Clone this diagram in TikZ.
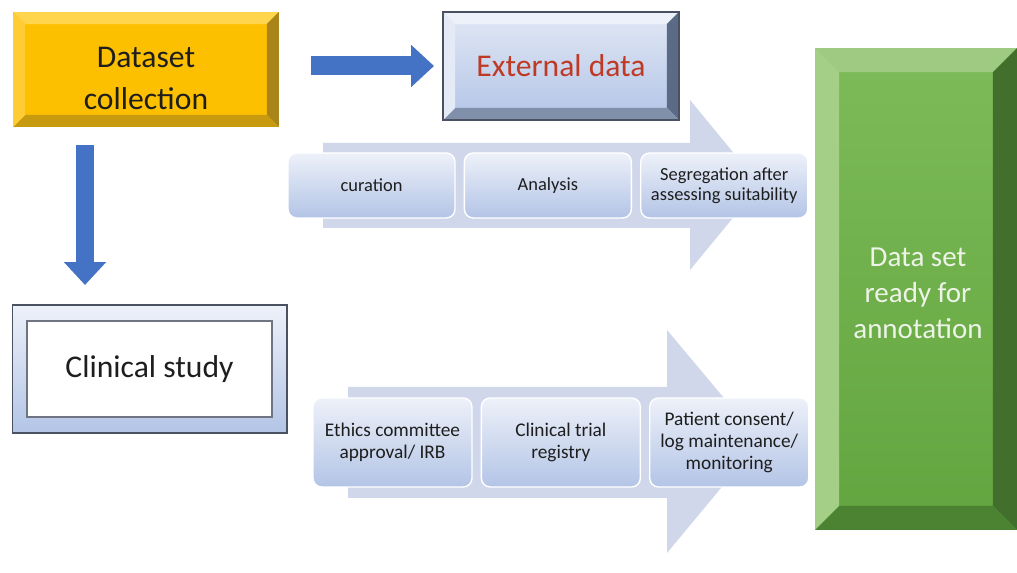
\documentclass[tikz,border=0pt]{standalone}
\usepackage{fontspec}
\setmainfont{Carlito}
\usetikzlibrary{arrows.meta, positioning, calc}

\definecolor{ink}{HTML}{1E1E1E}
\definecolor{gold}{HTML}{FDC000}
\definecolor{goldtop}{HTML}{FFD54D}
\definecolor{goldleft}{HTML}{FFCC33}
\definecolor{goldright}{HTML}{A8841A}
\definecolor{goldbot}{HTML}{C89A10}
\definecolor{flowblue}{HTML}{4472C4}
\definecolor{paletop}{HTML}{EDF1F9}
\definecolor{palebot}{HTML}{B3C4E6}
\definecolor{steel}{HTML}{5B6B85}
\definecolor{steelbot}{HTML}{8190AA}
\definecolor{frameline}{HTML}{4A5262}
\definecolor{extred}{HTML}{BE3A24}
\definecolor{chevron}{HTML}{D1D7EB}
\definecolor{leaf}{HTML}{70AD47}
\definecolor{leaftop}{HTML}{7DBB58}
\definecolor{leafbot}{HTML}{62A53F}
\definecolor{leaflight}{HTML}{A3CF87}
\definecolor{leafdark}{HTML}{436F2C}
\definecolor{leafbevel}{HTML}{4C8333}
\definecolor{leaftext}{HTML}{EEF3E8}

% bevelled frame round a node: name, depth, top, right, bottom, left
\newcommand{\bevelframe}[6]{%
  \coordinate (#1-a) at ($(#1.north west)+(#2,#2)$);
  \coordinate (#1-b) at ($(#1.north east)+(-#2,#2)$);
  \coordinate (#1-c) at ($(#1.south east)+(-#2,-#2)$);
  \coordinate (#1-d) at ($(#1.south west)+(#2,-#2)$);
  \fill[#3] (#1.north west) -- (#1.north east) -- (#1-b) -- (#1-a) -- cycle;
  \fill[#4] (#1.north east) -- (#1.south east) -- (#1-c) -- (#1-b) -- cycle;
  \fill[#5] (#1.south east) -- (#1.south west) -- (#1-d) -- (#1-c) -- cycle;
  \fill[#6] (#1.south west) -- (#1.north west) -- (#1-a) -- (#1-d) -- cycle;
}

\begin{document}
\begin{tikzpicture}[
    x=0.02cm, y=-0.02cm,
    box/.style={rectangle, inner sep=0pt, outer sep=0pt, align=center, text=ink,
      font=\fontsize{18}{22}\selectfont},
    card/.style={rectangle, rounded corners=5pt, draw=white, line width=0.8pt,
      top color=paletop, bottom color=palebot, align=center, text=ink, inner sep=2pt},
    topcard/.style={card, minimum width=3.34cm, minimum height=1.3cm,
      font=\fontsize{10.5}{11.5}\selectfont},
    lowcard/.style={card, minimum width=3.18cm, minimum height=1.78cm,
      font=\fontsize{11}{12.5}\selectfont},
    bluearrow/.style={draw=flowblue, line width=0.38cm,
      -{Triangle[length=0.46cm, width=0.82cm]}}
]
\useasboundingbox (0,0) rectangle (1017,573);
\fill[white] (0,0) rectangle (1017,573);

% background chevrons
\fill[chevron] (323,143) -- (690,143) -- (690,100) -- (760,185)
  -- (690,270) -- (690,228) -- (323,228) -- cycle;
\fill[chevron] (348,387) -- (667,387) -- (667,330) -- (760,441)
  -- (667,553) -- (667,498) -- (348,498) -- cycle;

% sources
\node[box, fill=gold, minimum width=5.32cm, minimum height=2.3cm] (data) at (146,69.5) {};
\bevelframe{data}{12}{goldtop}{goldright}{goldbot}{goldleft}
\node[box, font=\fontsize{18}{24}\selectfont] (datatext) at ($(data)+(0,9)$)
  {Dataset\\collection};

\node[box, top color=paletop!80!palebot, bottom color=palebot, text=extred,
  minimum width=4.72cm, minimum height=2.16cm] (ext) at (561,66) {External data};
\bevelframe{ext}{12}{paletop}{steel}{steelbot}{paletop!85!palebot}
\draw[frameline, line width=0.8pt] (ext.north west) rectangle (ext.south east);

\node[box, draw=frameline, line width=0.6pt, top color=paletop, bottom color=palebot,
  minimum width=5.5cm, minimum height=2.56cm] (clinframe) at (149.5,369) {};
\node[box, fill=white, draw=frameline!80, line width=0.6pt,
  minimum width=4.9cm, minimum height=1.92cm] (clin) at (clinframe.center) {Clinical study};

% steps
\node[topcard] (cur) at (371.5,185.5) {curation};
\node[topcard, right=0.16cm of cur] (ana) {Analysis};
\node[topcard, right=0.16cm of ana] (seg) {Segregation after\\assessing suitability};

\node[lowcard] (irb) at (392.5,442.5) {Ethics committee\\approval/ IRB};
\node[lowcard, right=0.16cm of irb] (reg) {Clinical trial\\registry};
\node[lowcard, right=0.16cm of reg] (mon) {Patient consent/\\log maintenance/\\monitoring};

% result
\node[box, top color=leaftop, bottom color=leafbot,
  minimum width=4.04cm, minimum height=9.64cm] (ready) at (916,289) {};
\bevelframe{ready}{24}{leaflight!90!leaf}{leafdark}{leafbevel}{leaflight}
\node[box, text=leaftext, font=\fontsize{16.5}{20.5}\selectfont] (readytext)
  at ($(ready)+(2,4)$) {Data set\\ready for\\annotation};

% block arrows
\draw[bluearrow, shorten <=0.64cm, shorten >=0.18cm] (ext.west -| data.east) -- (ext.west);
\coordinate (drop) at (85,0);
\draw[bluearrow, shorten <=0.36cm, shorten >=0.4cm] (data.south -| drop) -- (clinframe.north -| drop);
\end{tikzpicture}
\end{document}
